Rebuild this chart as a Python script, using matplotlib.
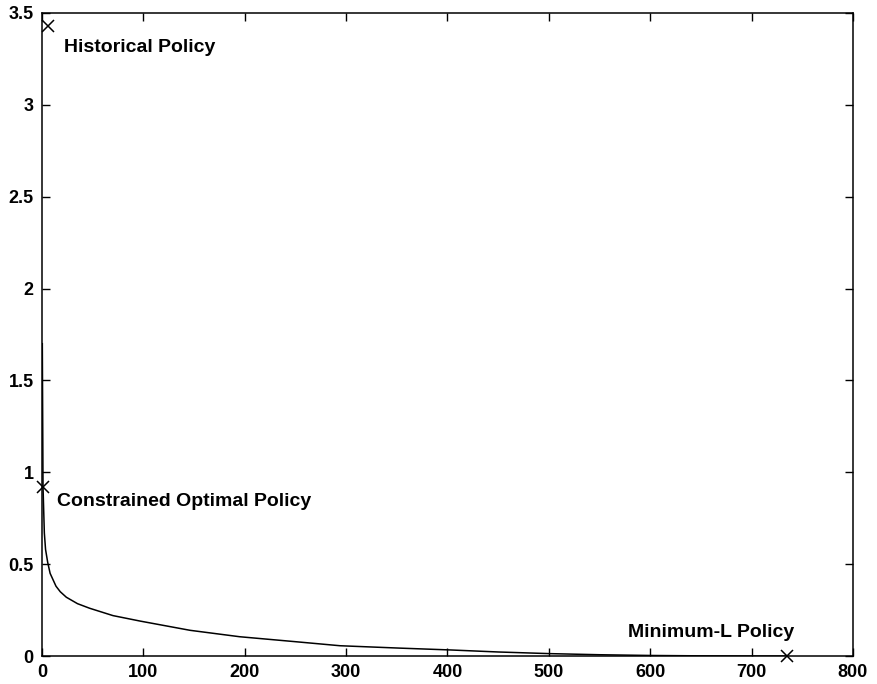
import matplotlib.pyplot as plt
from matplotlib.ticker import FuncFormatter

# tradeoff curve
curve_x = [1, 2.3, 3.5, 5.6, 8, 13.8, 18, 24, 35, 47, 70, 97, 146, 195,
           250, 294, 353, 403, 450, 501, 550, 600, 650, 700, 735]
curve_y = [0.92, 0.67, 0.58, 0.51, 0.45, 0.38, 0.35, 0.32, 0.285, 0.26,
           0.22, 0.19, 0.14, 0.105, 0.078, 0.056, 0.043, 0.033, 0.022, 0.013,
           0.007, 0.003, 0.001, 0.0, 0.0]
top_x = [0.3, 1]
top_y = [1.7, 0.92]

# marked policies
policy_names = ["Historical Policy", "Constrained Optimal Policy", "Minimum-L Policy"]
policy_x = [6, 1, 735]
policy_y = [3.43, 0.92, 0.0]
label_x = [22, 15, 578]
label_y = [3.31, 0.84, 0.13]

plt.rcParams['font.family'] = ['Liberation Sans', 'DejaVu Sans']
plt.rcParams['font.weight'] = 'bold'

fig = plt.figure(figsize=(8.77, 6.84), dpi=100)
ax = fig.add_axes([0.0479, 0.0409, 0.9247, 0.9401])

ax.plot(top_x, top_y, color='black', lw=1.1)
ax.plot(curve_x, curve_y, color='black', lw=1.1)
ax.plot(policy_x, policy_y, 'x', color='black', markersize=9, mew=1.1,
        clip_on=False)
for name, tx, ty in zip(policy_names, label_x, label_y):
    ax.text(tx, ty, name, fontsize=14, fontweight='bold', va='center', ha='left')

ax.set_xlim(0, 800)
ax.set_ylim(0, 3.5)
ax.set_xticks(range(0, 801, 100))
ax.set_yticks([0, 0.5, 1, 1.5, 2, 2.5, 3, 3.5])
ax.yaxis.set_major_formatter(FuncFormatter(lambda v, p: "%g" % v))
ax.tick_params(direction='in', top=True, right=True, length=6, width=1,
               labelsize=13)
ax.tick_params(axis='y', pad=6)
ax.tick_params(axis='x', pad=6)
for s in ax.spines.values():
    s.set_linewidth(1.1)

fig.savefig("out.png", dpi=100)
